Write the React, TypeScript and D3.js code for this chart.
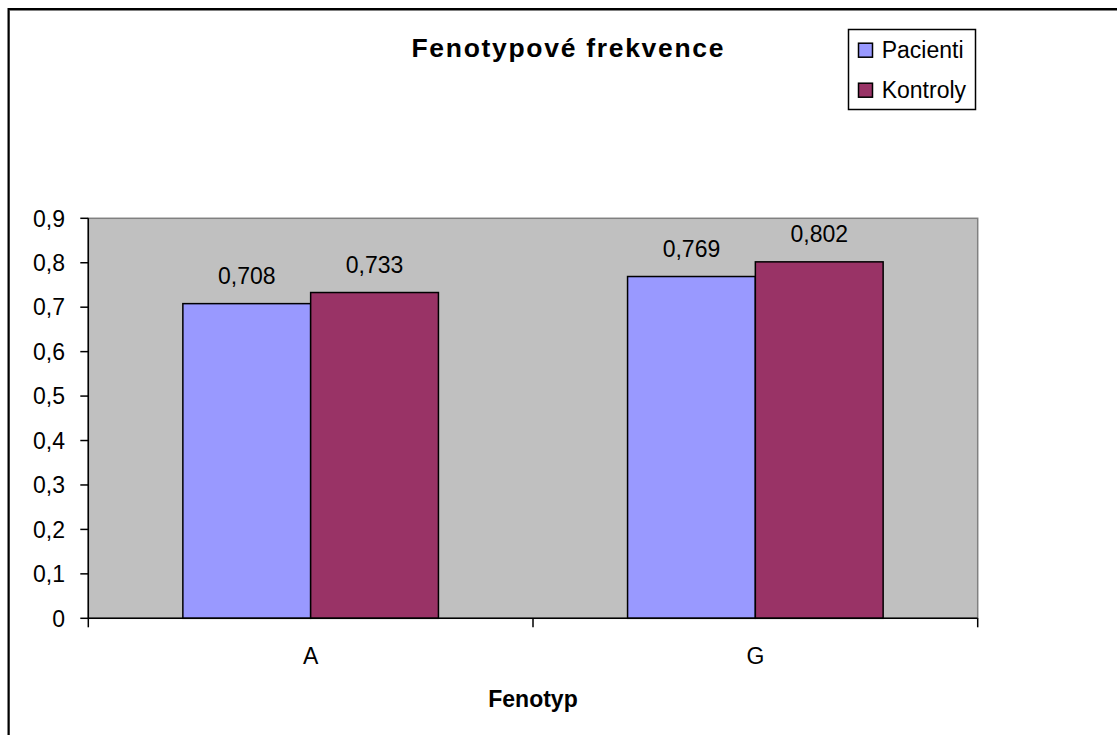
import React from "react";
import * as d3 from "d3";

const categories = ["A", "G"];
const seriesNames = ["Pacienti", "Kontroly"];
const pacienti = [0.708, 0.769];
const kontroly = [0.733, 0.802];
const seriesColors = ["#9999FF", "#993366"];
const yTicks = [0, 0.1, 0.2, 0.3, 0.4, 0.5, 0.6, 0.7, 0.8, 0.9];
const titleText = "Fenotypové frekvence";
const xAxisTitle = "Fenotyp";

const W = 1117;
const H = 735;
const plot = { left: 88.3, top: 218.3, right: 977.7, bottom: 618.3 };
const FONT = "'Liberation Sans', Arial, sans-serif";
const FS = 23;

const locale = d3.formatLocale({ decimal: ",", thousands: " ", grouping: [3], currency: ["", ""] });
const fmtVal = locale.format(".3~f");
const fmtTick = locale.format(".1~f");

export default function App() {
  const series = [pacienti, kontroly];
  const x0 = d3.scaleBand<string>().domain(categories).range([plot.left, plot.right]).padding(0);
  const x1 = d3
    .scaleBand<string>()
    .domain(seriesNames)
    .range([0, x0.bandwidth()])
    .paddingInner(0)
    .paddingOuter(0.74);
  const y = d3.scaleLinear().domain([0, 0.9]).range([plot.bottom, plot.top]);

  const xTickPositions = [plot.left, ...categories.map((c) => (x0(c) as number) + x0.bandwidth())];

  return (
    <svg
      width={W}
      height={H}
      style={{ position: "absolute", left: 0, top: 0, background: "#fff" }}
      fontFamily={FONT}
    >
      {/* outer chart frame (extends beyond view) */}
      <rect x={9.5} y={10.5} width={1200} height={800} fill="none" stroke="#808080" strokeWidth={1} />
      <rect x={8.5} y={9} width={1200} height={800} fill="none" stroke="#000" strokeWidth={2} />

      {/* title */}
      <text
        x={567.5}
        y={57.3}
        textAnchor="middle"
        fontWeight="bold"
        fontSize={26.5}
        textLength={312}
        lengthAdjust="spacing"
      >
        {titleText}
      </text>

      {/* plot area */}
      <rect
        x={plot.left}
        y={plot.top}
        width={plot.right - plot.left}
        height={plot.bottom - plot.top}
        fill="#C0C0C0"
        stroke="#808080"
        strokeWidth={1.5}
      />

      {/* bars */}
      {categories.map((c, ci) =>
        seriesNames.map((s, si) => {
          const v = series[si][ci];
          const bx = (x0(c) as number) + (x1(s) as number);
          return (
            <g key={c + s}>
              <rect
                x={bx}
                y={y(v)}
                width={x1.bandwidth()}
                height={y(0) - y(v)}
                fill={seriesColors[si]}
                stroke="#000"
                strokeWidth={1.5}
              />
              <text
                x={bx + x1.bandwidth() / 2}
                y={y(v) - 19.5}
                textAnchor="middle"
                fontSize={FS}
                fill="#000"
              >
                {fmtVal(v)}
              </text>
            </g>
          );
        })
      )}

      {/* y axis */}
      <line x1={plot.left} x2={plot.left} y1={plot.top} y2={plot.bottom} stroke="#000" strokeWidth={1.5} />
      {yTicks.map((t) => (
        <g key={t}>
          <line x1={plot.left - 8} x2={plot.left} y1={y(t)} y2={y(t)} stroke="#000" strokeWidth={1.5} />
          <text x={65} y={y(t)} dy="0.36em" textAnchor="end" fontSize={FS}>
            {fmtTick(t)}
          </text>
        </g>
      ))}

      {/* x axis */}
      <line x1={plot.left} x2={plot.right} y1={plot.bottom} y2={plot.bottom} stroke="#000" strokeWidth={1.5} />
      {xTickPositions.map((px, i) => (
        <line key={i} x1={px} x2={px} y1={plot.bottom} y2={plot.bottom + 9} stroke="#000" strokeWidth={1.5} />
      ))}
      {categories.map((c) => (
        <text key={c} x={(x0(c) as number) + x0.bandwidth() / 2} y={664} textAnchor="middle" fontSize={FS}>
          {c}
        </text>
      ))}
      <text x={(plot.left + plot.right) / 2} y={706.7} textAnchor="middle" fontSize={FS} fontWeight="bold">
        {xAxisTitle}
      </text>

      {/* legend */}
      <rect x={848.5} y={29.5} width={127} height={80} fill="#fff" stroke="#000" strokeWidth={1.5} />
      {seriesNames.map((s, i) => (
        <g key={s}>
          <rect x={858.5} y={43.2 + i * 40} width={14} height={14} fill={seriesColors[i]} stroke="#000" strokeWidth={1.5} />
          <text x={881.7} y={58.3 + i * 40} fontSize={FS}>
            {s}
          </text>
        </g>
      ))}
    </svg>
  );
}
